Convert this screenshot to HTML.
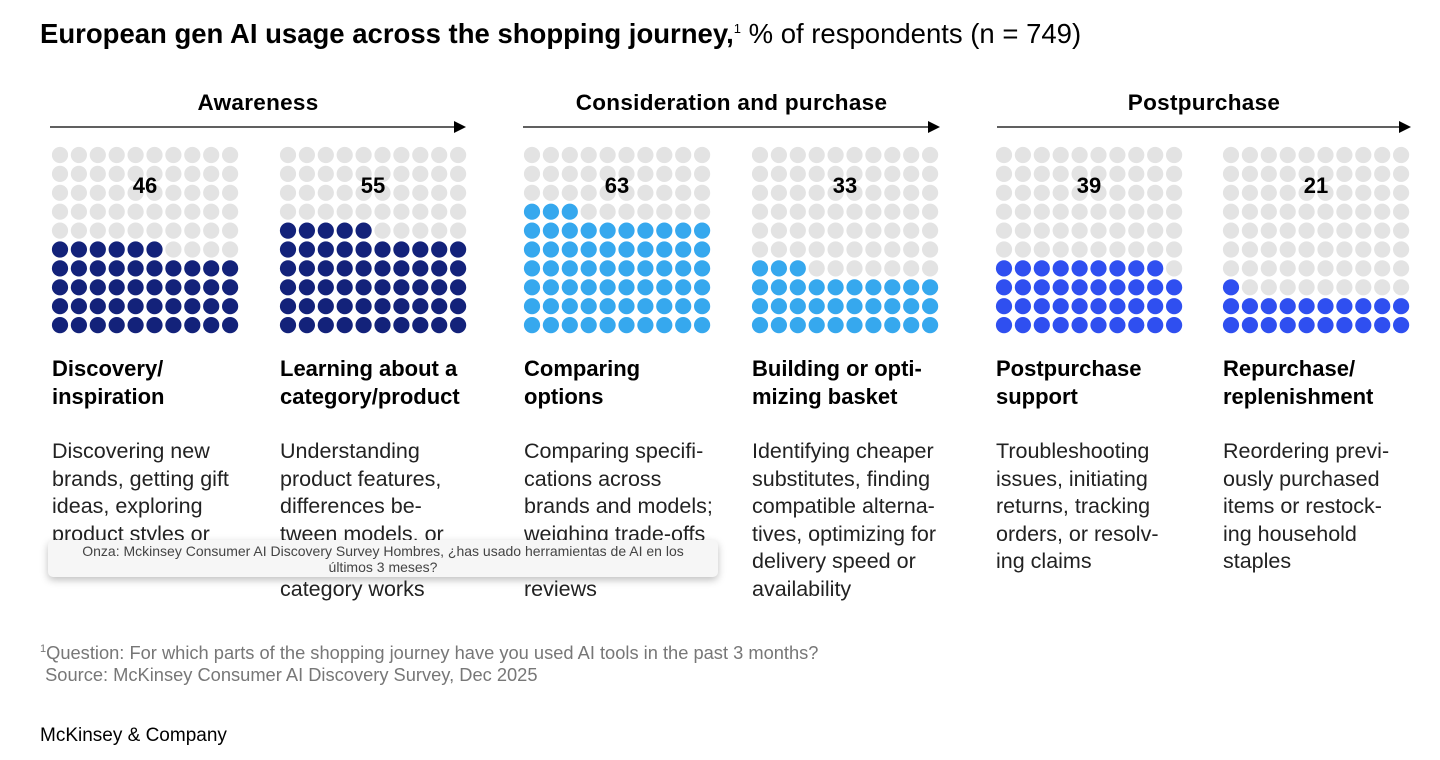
<!DOCTYPE html>
<html><head><meta charset="utf-8"><style>
body{margin:0;width:1440px;height:760px;background:#fff;font-family:"Liberation Sans",Arial,sans-serif;overflow:hidden;position:relative;color:#000}
.abs{position:absolute}
.title{left:40px;top:18px;font-size:27.5px;white-space:nowrap}
.sec{font-size:22.5px;font-weight:bold;text-align:center;top:90px;letter-spacing:0.3px}
.h{font-size:22px;font-weight:bold;line-height:28px;top:355px;white-space:nowrap}
.d{font-size:21.5px;line-height:27.6px;top:438px;white-space:nowrap;color:#222}
.foot{left:40px;top:638px;font-size:18.3px;color:#777;line-height:22px}
</style></head><body>
<div class="abs title"><b>European gen AI usage across the shopping journey,</b><sup style="font-size:13px">1</sup> % of respondents (n = 749)</div>
<svg class="abs" style="left:0;top:0" width="1440" height="760" id="chart"></svg>
<div class="abs sec" style="left:50px;width:416px">Awareness</div>
<div class="abs sec" style="left:523px;width:417px">Consideration and purchase</div>
<div class="abs sec" style="left:997px;width:414px">Postpurchase</div>

<div class="abs h" style="left:52px">Discovery/<br>inspiration</div>
<div class="abs h" style="left:280px">Learning about a<br>category/product</div>
<div class="abs h" style="left:524px">Comparing<br>options</div>
<div class="abs h" style="left:752px">Building or opti-<br>mizing basket</div>
<div class="abs h" style="left:996px">Postpurchase<br>support</div>
<div class="abs h" style="left:1223px">Repurchase/<br>replenishment</div>

<div class="abs d" style="left:52px">Discovering new<br>brands, getting gift<br>ideas, exploring<br>product styles or</div>
<div class="abs d" style="left:280px">Understanding<br>product features,<br>differences be-<br>tween models, or<br>how a product<br>category works</div>
<div class="abs d" style="left:524px">Comparing specifi-<br>cations across<br>brands and models;<br>weighing trade-offs<br>or reading user<br>reviews</div>
<div class="abs d" style="left:752px">Identifying cheaper<br>substitutes, finding<br>compatible alterna-<br>tives, optimizing for<br>delivery speed or<br>availability</div>
<div class="abs d" style="left:996px">Troubleshooting<br>issues, initiating<br>returns, tracking<br>orders, or resolv-<br>ing claims</div>
<div class="abs d" style="left:1223px">Reordering previ-<br>ously purchased<br>items or restock-<br>ing household<br>staples</div>

<div class="abs" style="left:48px;top:540px;width:670px;height:37px;background:#f6f6f6;border-radius:5px;box-shadow:0 3px 8px rgba(0,0,0,0.25);font-size:14px;color:#444;text-align:center;line-height:16px;padding-top:3px;box-sizing:border-box;white-space:nowrap">Onza: Mckinsey Consumer AI Discovery Survey Hombres, ¿has usado herramientas de AI en los<br>últimos 3 meses?</div>

<div class="abs foot"><sup style="font-size:11px">1</sup>Question: For which parts of the shopping journey have you used AI tools in the past 3 months?<br>&nbsp;Source: McKinsey Consumer AI Discovery Survey, Dec 2025</div>
<div class="abs" style="left:40px;top:725px;font-size:19px">McKinsey &amp; Company</div>

<script>
const categories=["Discovery/inspiration","Learning about a category/product","Comparing options","Building or optimizing basket","Postpurchase support","Repurchase/replenishment"];
const values=[46,55,63,33,39,21];
const colors=["#13227a","#13227a","#36a8ee","#36a8ee","#2f4ff0","#2f4ff0"];
const ns="http://www.w3.org/2000/svg";
const svg=document.getElementById('chart');
const gridX=[60,288,532,760,1004,1231];
const step=18.9, top0=155, r=8.1;
function arrow(x1,x2,y){
  const l=document.createElementNS(ns,'line');
  l.setAttribute('x1',x1);l.setAttribute('x2',x2-10);l.setAttribute('y1',y);l.setAttribute('y2',y);
  l.setAttribute('stroke','#000');l.setAttribute('stroke-width','1.2');
  
  
  svg.appendChild(l);
  const p=document.createElementNS(ns,'polygon');
  p.setAttribute('points',`${x2-12},${y-6} ${x2},${y} ${x2-12},${y+6}`);
  
  
  svg.appendChild(p);
}
arrow(50,466,127);arrow(523,940,127);arrow(997,1411,127);
values.forEach((v,g)=>{
  for(let i=0;i<100;i++){
    const row=9-Math.floor(i/10), col=i%10;
    const c=document.createElementNS(ns,'circle');
    c.setAttribute('cx',gridX[g]+col*step);
    c.setAttribute('cy',top0+row*step);
    c.setAttribute('r',r);
    c.setAttribute('fill',i<v?colors[g]:'#e3e3e3');
    
    
    svg.appendChild(c);
  }
  const t=document.createElementNS(ns,'text');
  t.setAttribute('x',gridX[g]+4.5*step);
  t.setAttribute('y',193);
  t.setAttribute('text-anchor','middle');
  t.setAttribute('font-size','22');
  t.setAttribute('font-weight','bold');
  t.setAttribute('font-family','Liberation Sans, sans-serif');
  t.textContent=v;
  
  
  svg.appendChild(t);
});
</script>
</body></html>
